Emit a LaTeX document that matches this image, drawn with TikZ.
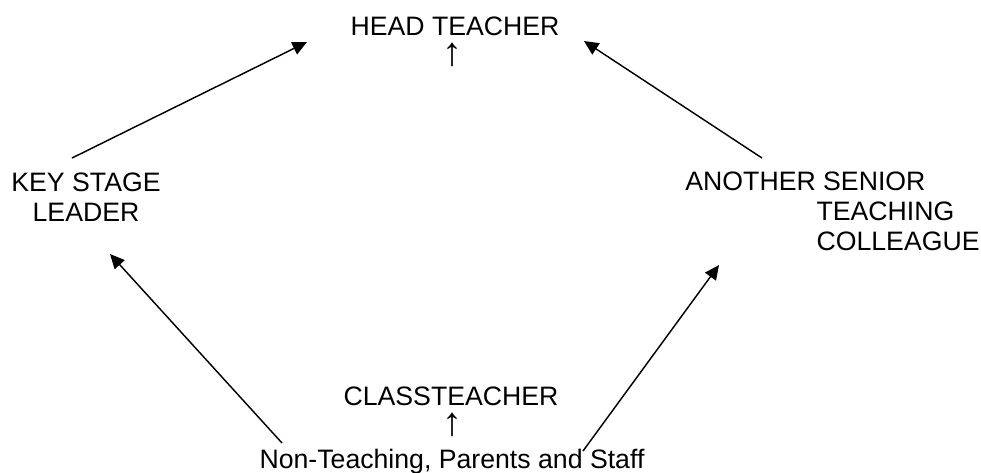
\documentclass[tikz,border=0pt]{standalone}
\usepackage{fontspec}
\setmainfont{Liberation Sans}
\usetikzlibrary{arrows.meta}
\begin{document}
\begin{tikzpicture}
        [x=0.45pt, y=-0.45pt,
         label_style/.style={inner sep=0pt, font=\fontsize{12}{13.5}\selectfont},
         up_style/.style={inner sep=0pt, text height=8pt, text depth=2pt, font=\fontsize{18}{20}\selectfont},
         edge_style/.style={draw=black, line width=0.65pt, -{Triangle[length=6.5pt,width=6pt]}}]
            \useasboundingbox (0,0) rectangle (981,472);
            \node[label_style, anchor=base] (head) at (455, 35)  {HEAD TEACHER};
            \node[up_style] (headup) at (452, 59)  {↑};
            \node[label_style, anchor=base, align=center] (ksl) at (86, 221)  {KEY STAGE\\LEADER};
            \node[label_style, anchor=base west, align=left] (asc) at (685, 250)
                {ANOTHER SENIOR\\\hspace*{59pt}TEACHING\\\hspace*{59pt}COLLEAGUE};
            \node[label_style, anchor=base] (cls) at (451, 405)  {CLASSTEACHER};
            \node[up_style] (clsup) at (452, 429)  {↑};
            \node[label_style, anchor=base] (staff) at (452, 468)  {Non-Teaching, Parents and Staff};
            % connector ends
            \coordinate (ksl_out) at (72, 158);
            \coordinate (ksl_in) at (110, 254);
            \coordinate (asc_out) at (762, 158);
            \coordinate (asc_in) at (719, 265);
            \coordinate (head_left) at (307, 42);
            \coordinate (head_right) at (584, 41);
            \coordinate (staff_left) at (282, 443);
            \coordinate (staff_right) at (583, 451);
            \draw[edge_style]  (ksl_out) -- (head_left);
            \draw[edge_style]  (asc_out) -- (head_right);
            \draw[edge_style]  (staff_left) -- (ksl_in);
            \draw[edge_style]  (staff_right) -- (asc_in);
        \end{tikzpicture}
\end{document}
